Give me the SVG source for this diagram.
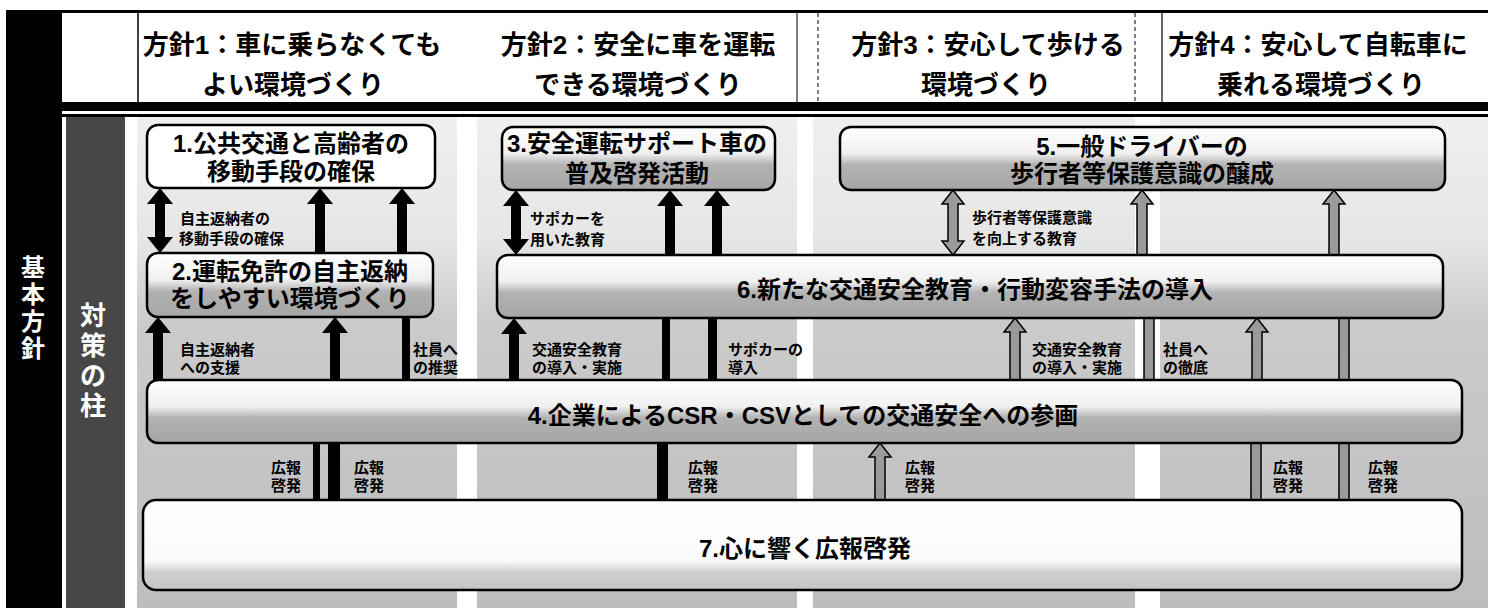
<svg xmlns="http://www.w3.org/2000/svg" width="1488" height="608" viewBox="0 0 1488 608">
<defs>
<linearGradient id="boxg" x1="0" y1="0" x2="0" y2="1">
<stop offset="0" stop-color="#ffffff"/>
<stop offset="0.42" stop-color="#f0f0f0"/>
<stop offset="0.6" stop-color="#b2b2b2"/>
<stop offset="1" stop-color="#a6a6a6"/>
</linearGradient>
<linearGradient id="box7g" x1="0" y1="0" x2="0" y2="1">
<stop offset="0" stop-color="#ffffff"/>
<stop offset="0.68" stop-color="#fafafa"/>
<stop offset="0.8" stop-color="#cfcfcf"/>
<stop offset="1" stop-color="#c4c4c4"/>
</linearGradient>
<linearGradient id="colg" gradientUnits="userSpaceOnUse" x1="0" y1="117" x2="0" y2="608">
<stop offset="0" stop-color="#efefef"/>
<stop offset="0.25" stop-color="#e6e6e6"/>
<stop offset="0.42" stop-color="#cbcbcb"/>
<stop offset="1" stop-color="#bdbdbd"/>
</linearGradient>
</defs>
<style>
.t{font-family:"Liberation Sans","Noto Sans CJK JP","Noto Sans CJK SC",sans-serif;font-weight:bold;fill:#000}
.hd{font-size:26px;text-anchor:middle;dominant-baseline:central}
.bx{font-size:24px;text-anchor:middle;dominant-baseline:central}
.lb{font-size:15px;dominant-baseline:central}
.vt{font-size:24px;text-anchor:middle;dominant-baseline:central;fill:#fff}
.box{stroke:#000;stroke-width:2.5}
.blk{fill:#000}
.hol{fill:#9a9a9a;stroke:#000;stroke-width:1.5}
.col{fill:url(#colg)}
</style>

<g id="frame">
<rect x="6" y="10" width="56" height="598" fill="#000"/>
<rect x="6" y="10" width="1482" height="3" fill="#000"/>
<rect x="6" y="102" width="1482" height="9" fill="#000"/>
<rect x="62" y="114" width="1426" height="3" fill="#000"/>
<line x1="138" y1="13" x2="138" y2="102" stroke="#000" stroke-width="1.5"/>
<line x1="797" y1="13" x2="797" y2="102" stroke="#000" stroke-width="1"/>
<line x1="818" y1="13" x2="818" y2="102" stroke="#000" stroke-width="1" stroke-dasharray="4 3"/>
<line x1="1135" y1="13" x2="1135" y2="102" stroke="#000" stroke-width="1" stroke-dasharray="4 3"/>
<line x1="1162" y1="13" x2="1162" y2="102" stroke="#000" stroke-width="1.2"/>
<rect x="66" y="117" width="59" height="491" fill="#474747"/>
<rect class="col" x="137" y="117" width="320" height="491"/>
<rect class="col" x="477" y="117" width="320" height="491"/>
<rect class="col" x="813" y="117" width="322" height="491"/>
<rect class="col" x="1160" y="117" width="328" height="491"/>
<text class="t vt"><tspan x="33" y="267">基</tspan><tspan x="33" y="294">本</tspan><tspan x="33" y="321">方</tspan><tspan x="33" y="348">針</tspan></text>
<text class="t vt" style="font-size:26px"><tspan x="93" y="316">対</tspan><tspan x="93" y="346">策</tspan><tspan x="93" y="376">の</tspan><tspan x="93" y="406">柱</tspan></text>
</g>

<g id="headers">
<text class="t hd"><tspan x="292" y="45">方針1：車に乗らなくても</tspan><tspan x="293" y="85">よい環境づくり</tspan></text>
<text class="t hd"><tspan x="638" y="45">方針2：安全に車を運転</tspan><tspan x="638" y="85">できる環境づくり</tspan></text>
<text class="t hd"><tspan x="988" y="45">方針3：安心して歩ける</tspan><tspan x="986" y="85">環境づくり</tspan></text>
<text class="t hd"><tspan x="1318" y="45">方針4：安心して自転車に</tspan><tspan x="1321" y="85">乗れる環境づくり</tspan></text>
</g>

<g id="connectors">
<path class="blk" d="M160,188 L173,204 L165,204 L165,237 L173,237 L160,253 L147,237 L155,237 L155,204 L147,204 Z"/>
<path class="blk" d="M320,188 L333,204 L325,204 L325,253 L315,253 L315,204 L307,204 Z"/>
<path class="blk" d="M402,188 L415,204 L407,204 L407,253 L397,253 L397,204 L389,204 Z"/>
<path class="blk" d="M158,317 L171,333 L163,333 L163,380 L153,380 L153,333 L145,333 Z"/>
<path class="blk" d="M335,317 L348,333 L340,333 L340,380 L330,380 L330,333 L322,333 Z"/>
<rect class="blk" x="402" y="317" width="8" height="63"/>
<rect class="blk" x="313" y="443" width="7" height="57"/>
<rect class="blk" x="328" y="443" width="12" height="57"/>
<path class="blk" d="M516,190 L529,206 L521,206 L521,239 L529,239 L516,255 L503,239 L511,239 L511,206 L503,206 Z"/>
<path class="blk" d="M670,190 L683,206 L675,206 L675,255 L665,255 L665,206 L657,206 Z"/>
<path class="blk" d="M717,190 L730,206 L722,206 L722,255 L712,255 L712,206 L704,206 Z"/>
<path class="blk" d="M514,318 L527,334 L519,334 L519,380 L509,380 L509,334 L501,334 Z"/>
<rect class="blk" x="662" y="318" width="8" height="62"/>
<rect class="blk" x="708" y="318" width="9" height="62"/>
<rect class="blk" x="657" y="443" width="11" height="57"/>
<path class="hol" d="M953,190 L964,204 L958,204 L958,241 L964,241 L953,255 L942,241 L948,241 L948,204 L942,204 Z"/>
<path class="hol" d="M1142,190 L1153,204 L1147,204 L1147,255 L1137,255 L1137,204 L1131,204 Z"/>
<path class="hol" d="M1334,190 L1345,204 L1339,204 L1339,255 L1329,255 L1329,204 L1323,204 Z"/>
<path class="hol" d="M1015,318 L1026,332 L1020,332 L1020,380 L1010,380 L1010,332 L1004,332 Z"/>
<rect class="hol" x="1144" y="318" width="10" height="62"/>
<path class="hol" d="M1257,318 L1268,332 L1262,332 L1262,380 L1252,380 L1252,332 L1246,332 Z"/>
<rect class="hol" x="1339" y="318" width="10" height="62"/>
<path class="hol" d="M880,443 L891,457 L885,457 L885,500 L875,500 L875,457 L869,457 Z"/>
<rect class="hol" x="1251" y="443" width="10" height="57"/>
<rect class="hol" x="1339" y="443" width="10" height="57"/>
</g>

<g id="labels">
<text class="t lb"><tspan x="180" y="218">自主返納者の</tspan><tspan x="179" y="238">移動手段の確保</tspan></text>
<text class="t lb"><tspan x="530" y="218">サポカーを</tspan><tspan x="530" y="239">用いた教育</tspan></text>
<text class="t lb"><tspan x="972" y="217">歩行者等保護意識</tspan><tspan x="972" y="238">を向上する教育</tspan></text>
<text class="t lb"><tspan x="180" y="349">自主返納者</tspan><tspan x="180" y="367">への支援</tspan></text>
<text class="t lb"><tspan x="413" y="349">社員へ</tspan><tspan x="413" y="367">の推奨</tspan></text>
<text class="t lb"><tspan x="532" y="349">交通安全教育</tspan><tspan x="532" y="367">の導入・実施</tspan></text>
<text class="t lb"><tspan x="728" y="349">サポカーの</tspan><tspan x="728" y="367">導入</tspan></text>
<text class="t lb"><tspan x="1032" y="349">交通安全教育</tspan><tspan x="1032" y="367">の導入・実施</tspan></text>
<text class="t lb"><tspan x="1163" y="349">社員へ</tspan><tspan x="1163" y="367">の徹底</tspan></text>
<text class="t lb"><tspan x="271" y="467">広報</tspan><tspan x="271" y="485">啓発</tspan></text>
<text class="t lb"><tspan x="354" y="467">広報</tspan><tspan x="354" y="485">啓発</tspan></text>
<text class="t lb"><tspan x="688" y="467">広報</tspan><tspan x="688" y="485">啓発</tspan></text>
<text class="t lb"><tspan x="905" y="467">広報</tspan><tspan x="905" y="485">啓発</tspan></text>
<text class="t lb"><tspan x="1273" y="467">広報</tspan><tspan x="1273" y="485">啓発</tspan></text>
<text class="t lb"><tspan x="1368" y="467">広報</tspan><tspan x="1368" y="485">啓発</tspan></text>
</g>

<g id="node1">
<rect class="box" x="147" y="125" width="288" height="63" rx="11" fill="#fff"/>
<text class="t bx"><tspan x="291" y="143">1.公共交通と高齢者の</tspan><tspan x="291" y="171">移動手段の確保</tspan></text>
</g>
<g id="node2">
<rect class="box" x="147" y="253" width="286" height="64" rx="11" fill="url(#boxg)"/>
<text class="t bx"><tspan x="290" y="271">2.運転免許の自主返納</tspan><tspan x="290" y="298">をしやすい環境づくり</tspan></text>
</g>
<g id="node3">
<rect class="box" x="502" y="127" width="273" height="63" rx="11" fill="url(#boxg)"/>
<text class="t bx"><tspan x="637" y="143">3.安全運転サポート車の</tspan><tspan x="637" y="173">普及啓発活動</tspan></text>
</g>
<g id="node5">
<rect class="box" x="840" y="127" width="605" height="63" rx="11" fill="url(#boxg)"/>
<text class="t bx"><tspan x="1142" y="146">5.一般ドライバーの</tspan><tspan x="1142" y="173">歩行者等保護意識の醸成</tspan></text>
</g>
<g id="node6">
<rect class="box" x="497" y="255" width="946" height="63" rx="11" fill="url(#boxg)"/>
<text class="t bx" x="975" y="289">6.新たな交通安全教育・行動変容手法の導入</text>
</g>
<g id="node4">
<rect class="box" x="147" y="380" width="1315" height="63" rx="11" fill="url(#boxg)"/>
<text class="t bx" x="803" y="415">4.企業によるCSR・CSVとしての交通安全への参画</text>
</g>
<g id="node7">
<rect class="box" x="143" y="500" width="1319" height="90" rx="13" fill="url(#box7g)"/>
<text class="t bx" x="805" y="548">7.心に響く広報啓発</text>
</g>
</svg>
